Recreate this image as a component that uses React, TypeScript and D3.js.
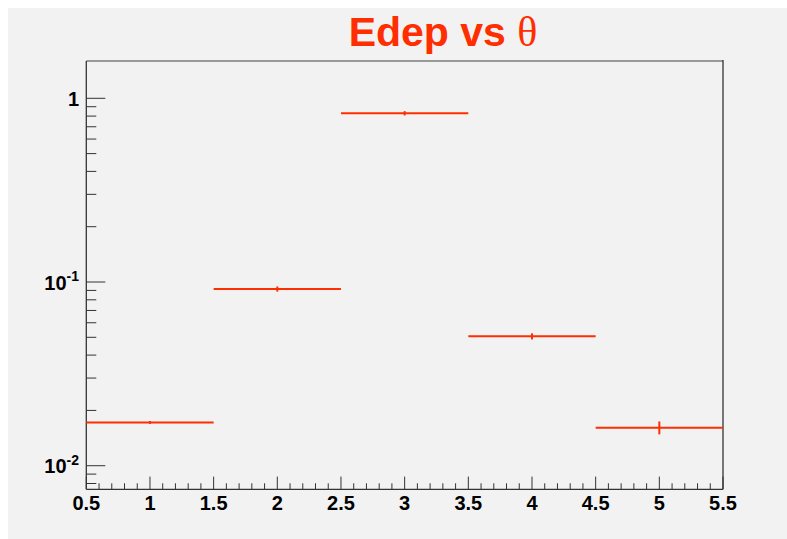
import React from "react";
import * as d3 from "d3";

const binCenters = [1, 2, 3, 4, 5];
const binWidth = 1;
const values = [0.0172, 0.0916, 0.829, 0.0506, 0.0161];
const errors = [0.0001, 0.0018, 0.012, 0.0013, 0.0011];
const xTicksMajor = [0.5, 1, 1.5, 2, 2.5, 3, 3.5, 4, 4.5, 5, 5.5];
const yTicksMajor = [0.01, 0.1, 1];
const yTickLabels = [
  { base: "10", exp: "-2" },
  { base: "10", exp: "-1" },
  { base: "1", exp: "" },
];
const title = "Edep vs ";
const titleSymbol = "θ";

const W = 779;
const H = 531;
const left = 86.3;
const right = 723;
const top = 61;
const bottom = 489.3;
const RED = "#ff2e00";
const BG = "#f2f2f2";
const AX = "#333";

export default function App() {
  const x = d3.scaleLinear().domain([0.5, 5.5]).range([left, right]);
  const y = d3.scaleLog().domain([0.00744, 1.596]).range([bottom, top]);

  const xMinor: number[] = d3
    .range(6, 55)
    .map((v) => v / 10)
    .filter((v) => Math.abs(v * 2 - Math.round(v * 2)) > 1e-6);
  const yMinor: number[] = [];
  for (const dec of [0.001, 0.01, 0.1]) {
    for (let k = 2; k <= 9; k++) {
      const v = dec * k;
      if (v >= 0.00744 && v <= 1.596) yMinor.push(v);
    }
  }

  const labelStyle = { fontFamily: "Liberation Sans, Arial, sans-serif", fontWeight: "bold", fontSize: 20 } as const;

  return (
    <svg width={W} height={H} style={{ display: "block", position: "absolute", left: 8, top: 8 }}>
      <g transform="translate(-8,-8)">
        <rect x={8} y={8} width={W} height={H} fill={BG} />
        <text
          x={443}
          y={46}
          textAnchor="middle"
          fill={RED}
          style={{ fontFamily: "Liberation Sans, Arial, sans-serif", fontWeight: "bold", fontSize: 41 }}
        >
          {title}
          <tspan style={{ fontFamily: "Liberation Serif, serif", fontWeight: "normal", fontSize: 42 }}>{titleSymbol}</tspan>
        </text>

        {/* frame */}
        <line x1={left} x2={right} y1={top} y2={top} stroke="#999" strokeWidth={2} />
        <line x1={right} x2={right} y1={top - 1} y2={bottom} stroke={AX} strokeWidth={1.3} />
        <line x1={left} x2={left} y1={top} y2={bottom} stroke={AX} strokeWidth={1.3} />
        <line x1={left} x2={right} y1={bottom} y2={bottom} stroke={AX} strokeWidth={1.3} />

        {/* x ticks */}
        {xTicksMajor.map((t) => (
          <g key={"xm" + t}>
            <line x1={x(t)} x2={x(t)} y1={bottom} y2={bottom - 12.7} stroke={AX} strokeWidth={1} />
            <text x={x(t)} y={509.5} textAnchor="middle" fill="#000" style={labelStyle}>
              {String(t)}
            </text>
          </g>
        ))}
        {xMinor.map((t) => (
          <line key={"xn" + t} x1={x(t)} x2={x(t)} y1={bottom} y2={bottom - 6} stroke={AX} strokeWidth={1} />
        ))}

        {/* y ticks */}
        {yTicksMajor.map((t, i) => (
          <g key={"ym" + t}>
            <line x1={left} x2={left + 19} y1={y(t)} y2={y(t)} stroke={AX} strokeWidth={1} />
            <text x={79} y={y(t) + 7.5} textAnchor="end" fill="#000" style={labelStyle}>
              {yTickLabels[i].base}
              {yTickLabels[i].exp ? (
                <tspan dy={-8.5} style={{ fontSize: 14 }}>
                  {yTickLabels[i].exp}
                </tspan>
              ) : null}
            </text>
          </g>
        ))}
        {yMinor.map((t) => (
          <line key={"yn" + t} x1={left} x2={left + 10} y1={y(t)} y2={y(t)} stroke={AX} strokeWidth={1} />
        ))}

        {/* data */}
        {binCenters.map((c, i) => (
          <g key={"b" + c}>
            <line
              x1={x(c - binWidth / 2)}
              x2={x(c + binWidth / 2)}
              y1={y(values[i])}
              y2={y(values[i])}
              stroke={RED}
              strokeWidth={2}
            />
            <line
              x1={x(c)}
              x2={x(c)}
              y1={y(values[i] + errors[i]) - 1}
              y2={y(values[i] - errors[i]) + 1}
              stroke={RED}
              strokeWidth={2}
            />
          </g>
        ))}
      </g>
    </svg>
  );
}
